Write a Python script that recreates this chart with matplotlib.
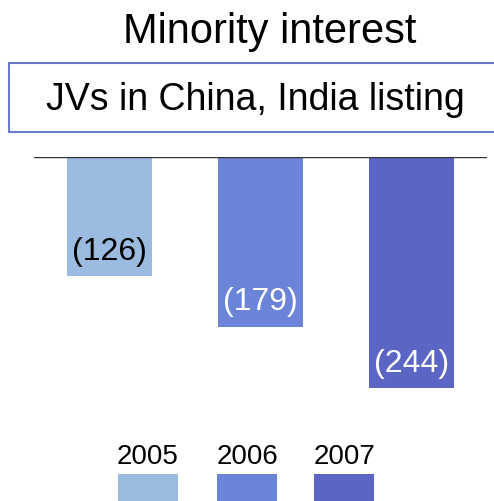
import numpy as np
import matplotlib

matplotlib.use("Agg")

import matplotlib.pyplot as plt
from matplotlib.patches import Rectangle

plt.rcParams["font.family"] = ["Liberation Sans", "DejaVu Sans"]

years = ["2005", "2006", "2007"]
values = [-126, -179, -244]
labels = ["(126)", "(179)", "(244)"]
colors = ["#9bbbe0", "#6b84d8", "#5b65c4"]
label_colors = ["black", "white", "white"]

W, H = 494, 501
fig = plt.figure(figsize=(W / 100, H / 100), dpi=100)

# bar area
ax = fig.add_axes([34 / W, 1 - 403.5 / H, 453 / W, 246.5 / H])
x = np.arange(len(years))
ax.bar(x, values, width=0.557, color=colors)
ax.set_xlim(-0.5, 2.5)
ax.set_ylim(-260, 0)
ax.axhline(0, color="#333333", lw=1)
for s in ax.spines.values():
    s.set_visible(False)
ax.set_xticks([])
ax.set_yticks([])
for xi, v, lab, c in zip(x, values, labels, label_colors):
    ax.text(xi, v + 26, lab, ha="center", va="center", fontsize=23, color=c)

# titles
fig.text(270 / W, 1 - 32 / H, "Minority interest", ha="center", va="center", fontsize=30)
box = Rectangle((9 / W, 1 - 132 / H), 500 / W, 69 / H, transform=fig.transFigure,
                facecolor="white", edgecolor="#6b7bd0", lw=1.5, clip_on=False)
fig.patches.append(box)
fig.text(255 / W, 1 - 100 / H, "JVs in China, India listing", ha="center", va="center", fontsize=27)

# legend
leg_x = [148, 247, 344]
for lx, yr, c in zip(leg_x, years, colors):
    fig.patches.append(Rectangle(((lx - 30) / W, 0), 60 / W, 27 / H,
                                 transform=fig.transFigure, facecolor=c, edgecolor="none"))
    fig.text(lx / W, 1 - 457 / H, yr, ha="center", va="center", fontsize=20)

fig.savefig("out.png", dpi=100)
